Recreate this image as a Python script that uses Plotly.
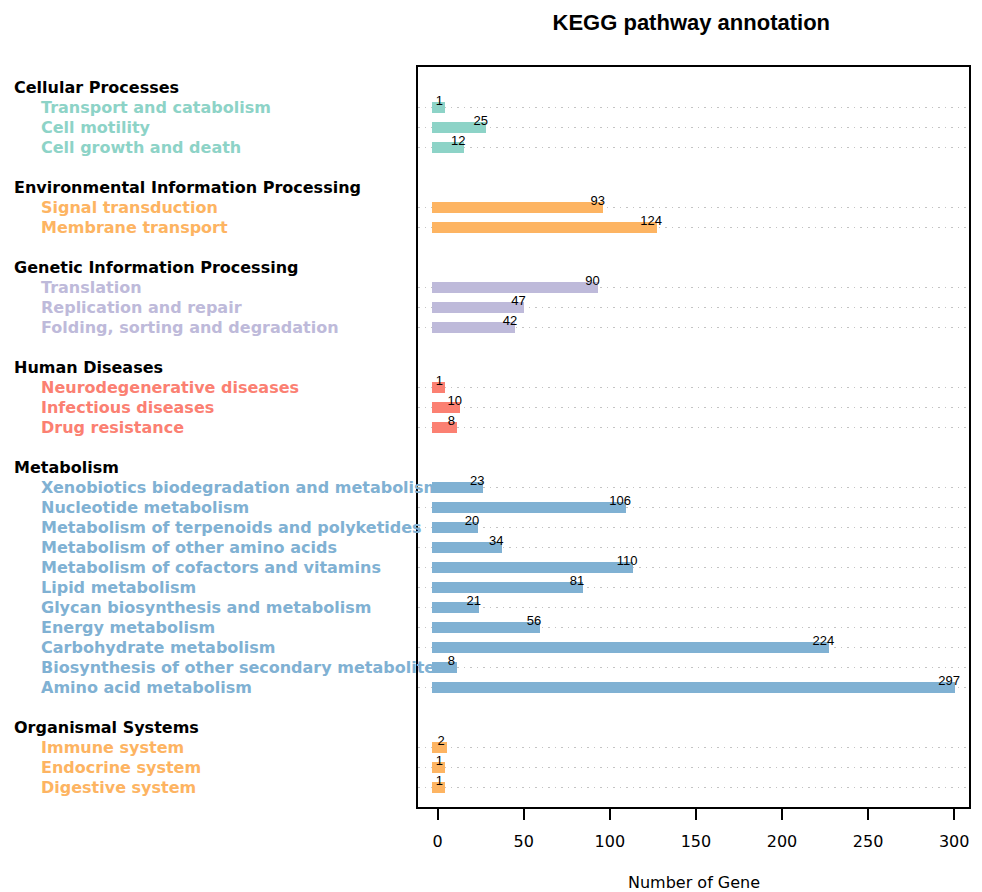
import plotly.graph_objects as go

# KEGG level-1 categories, their level-2 pathways and gene counts
categories = [
    "Cellular Processes",
    "Environmental Information Processing",
    "Genetic Information Processing",
    "Human Diseases",
    "Metabolism",
    "Organismal Systems",
]
category_colors = ["#8DD3C7", "#FDB462", "#BEBADA", "#FB8072", "#80B1D3", "#FDB462"]

cellular_pathways = ["Transport and catabolism", "Cell motility", "Cell growth and death"]
cellular_counts = [1, 25, 12]

environmental_pathways = ["Signal transduction", "Membrane transport"]
environmental_counts = [93, 124]

genetic_pathways = ["Translation", "Replication and repair", "Folding, sorting and degradation"]
genetic_counts = [90, 47, 42]

disease_pathways = ["Neurodegenerative diseases", "Infectious diseases", "Drug resistance"]
disease_counts = [1, 10, 8]

metabolism_pathways = [
    "Xenobiotics biodegradation and metabolism",
    "Nucleotide metabolism",
    "Metabolism of terpenoids and polyketides",
    "Metabolism of other amino acids",
    "Metabolism of cofactors and vitamins",
    "Lipid metabolism",
    "Glycan biosynthesis and metabolism",
    "Energy metabolism",
    "Carbohydrate metabolism",
    "Biosynthesis of other secondary metabolites",
    "Amino acid metabolism",
]
metabolism_counts = [23, 106, 20, 34, 110, 81, 21, 56, 224, 8, 297]

organismal_pathways = ["Immune system", "Endocrine system", "Digestive system"]
organismal_counts = [2, 1, 1]

x_ticks = [0, 50, 100, 150, 200, 250, 300]

pathway_groups = [
    (cellular_pathways, cellular_counts),
    (environmental_pathways, environmental_counts),
    (genetic_pathways, genetic_counts),
    (disease_pathways, disease_counts),
    (metabolism_pathways, metabolism_counts),
    (organismal_pathways, organismal_counts),
]

# Lay the rows out top to bottom: a header row per category, its pathways,
# then one empty spacer row before the next category.
header_rows, item_rows, item_names, item_values, item_colors = [], [], [], [], []
row = 0
for cat, color, (names, values) in zip(categories, category_colors, pathway_groups):
    header_rows.append(row)
    row += 1
    for n, v in zip(names, values):
        item_rows.append(row)
        item_names.append(n)
        item_values.append(v)
        item_colors.append(color)
        row += 1
    row += 1
last_row = row - 2

FONT = "Liberation Sans, Arial, Helvetica, sans-serif"
LABEL_FONT = "DejaVu Sans, Verdana, sans-serif"

# bars are drawn like thick segments with square ends: they overhang 0 and
# the value by the same small amount on each side
cap = 3.2
fig = go.Figure()
fig.add_trace(go.Bar(
    y=item_rows,
    x=[v + 2 * cap for v in item_values],
    base=[-cap] * len(item_values),
    orientation="h",
    width=0.55,
    marker=dict(color=item_colors, line=dict(width=0)),
    hoverinfo="skip",
    showlegend=False,
))
fig.add_trace(go.Scatter(
    x=item_values,
    y=[r - 0.27 for r in item_rows],
    mode="text",
    text=[str(v) for v in item_values],
    textposition="middle center",
    textfont=dict(family=FONT, size=13, color="black"),
    hoverinfo="skip",
    showlegend=False,
))

W, H = 982, 892
L, R, T, B = 418, 13, 67, 85
plot_h = H - T - B

annotations = []
for cat, r in zip(categories, header_rows):
    annotations.append(dict(
        x=0, xref="paper", xshift=12 - L, y=r, yref="y",
        text="<b>%s</b>" % cat, showarrow=False, xanchor="left", yanchor="middle",
        font=dict(family=LABEL_FONT, size=16, color="black"),
    ))
for n, r, c in zip(item_names, item_rows, item_colors):
    annotations.append(dict(
        x=0, xref="paper", xshift=39 - L, y=r, yref="y",
        text="<b>%s</b>" % n, showarrow=False, xanchor="left", yanchor="middle",
        font=dict(family=LABEL_FONT, size=16, color=c),
    ))
# x-axis title, centred under the plot box
annotations.append(dict(
    x=0.5, xref="paper", y=-(882 - (H - B)) / plot_h, yref="paper",
    text="Number of Gene", showarrow=False, xanchor="center", yanchor="middle",
    font=dict(family=LABEL_FONT, size=16, color="black"),
))

fig.update_layout(
    width=W, height=H,
    margin=dict(l=L, r=R, t=T, b=B, autoexpand=False),
    paper_bgcolor="white", plot_bgcolor="white",
    title=dict(
        text="<b>KEGG pathway annotation</b>",
        x=0.496, xref="paper", xanchor="center",
        y=1 - 22 / H, yref="container", yanchor="middle",
        font=dict(family=FONT, size=22, color="black"),
    ),
    xaxis=dict(
        range=[-11.4, 308.6],
        tickvals=x_ticks, ticktext=[str(t) for t in x_ticks],
        ticks="outside", ticklen=11, tickwidth=1.5, tickcolor="black",
        ticklabelstandoff=8, automargin=False,
        tickfont=dict(family=LABEL_FONT, size=16, color="black"),
        showline=True, linecolor="black", linewidth=1.6, mirror=True,
        showgrid=False, zeroline=False,
    ),
    yaxis=dict(
        range=[last_row + 1, -1], automargin=False,
        tickvals=item_rows, showticklabels=False, ticks="",
        showgrid=True, gridcolor="#c4c4c4", gridwidth=1.2, griddash="1.5px,5px",
        showline=True, linecolor="black", linewidth=1.6, mirror=True,
        zeroline=False,
    ),
    annotations=annotations,
    bargap=0,
)

fig.write_html("out.html")
